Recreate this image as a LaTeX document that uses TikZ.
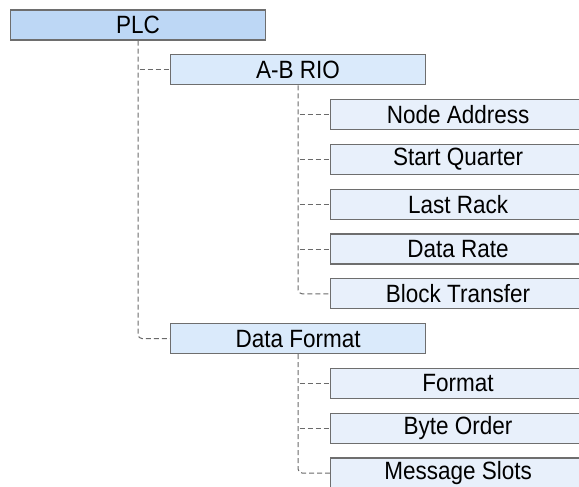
\documentclass[tikz,border=0pt]{standalone}
\usepackage{fontspec}
\setmainfont{Liberation Sans}[FakeStretch=0.9]
\definecolor{rootfill}{HTML}{BDD7F5}
\definecolor{midfill}{HTML}{DAEAFB}
\definecolor{leaffill}{HTML}{E8F0FB}
\definecolor{boxline}{HTML}{6E6E6E}
\definecolor{conline}{HTML}{6A6A6A}
\tikzset{
  box/.style={draw=boxline, line width=1.1pt, minimum width=255pt, minimum height=30pt,
    inner sep=0pt, anchor=west, font=\fontsize{25}{26}\selectfont, text=black},
  rootbox/.style={box, fill=rootfill},
  midbox/.style={box, fill=midfill},
  leafbox/.style={box, fill=leaffill},
  conn/.style={draw=conline, line width=1pt, dash pattern=on 5pt off 3pt, rounded corners=4pt}
}
\begin{document}
\begin{tikzpicture}[x=1pt,y=-1pt]
\useasboundingbox (0,0) rectangle (579,487);
\clip (0,0) rectangle (579,487);
\node[rootbox] (plc) at (10,25) {PLC};
\node[midbox] (rio) at (170,69.8) {A-B RIO};
\node[leafbox] (na) at (330,114.6) {Node Address};
\node[leafbox] (sq) at (330,159.4) {Start Quarter};
\node[leafbox] (lr) at (330,204.2) {Last Rack};
\node[leafbox] (dr) at (330,249) {Data Rate};
\node[leafbox] (bt) at (330,293.8) {Block Transfer};
\node[midbox] (df) at (170,338.6) {Data Format};
\node[leafbox] (fm) at (330,383.4) {Format};
\node[leafbox] (bo) at (330,428.2) {Byte Order};
\node[leafbox] (ms) at (330,473) {Message Slots};
% PLC branch
\draw[conn] (plc.south) |- (df.west);
\draw[conn] (plc.south |- rio.west) ++(1.5pt,0) -- (rio.west);
% A-B RIO branch
\draw[conn] (rio.south) |- (bt.west);
\foreach \c in {na,sq,lr,dr}
  \draw[conn] (rio.south |- \c.west) ++(1.5pt,0) -- (\c.west);
% Data Format branch
\draw[conn] (df.south) |- (ms.west);
\foreach \c in {fm,bo}
  \draw[conn] (df.south |- \c.west) ++(1.5pt,0) -- (\c.west);
\end{tikzpicture}
\end{document}
